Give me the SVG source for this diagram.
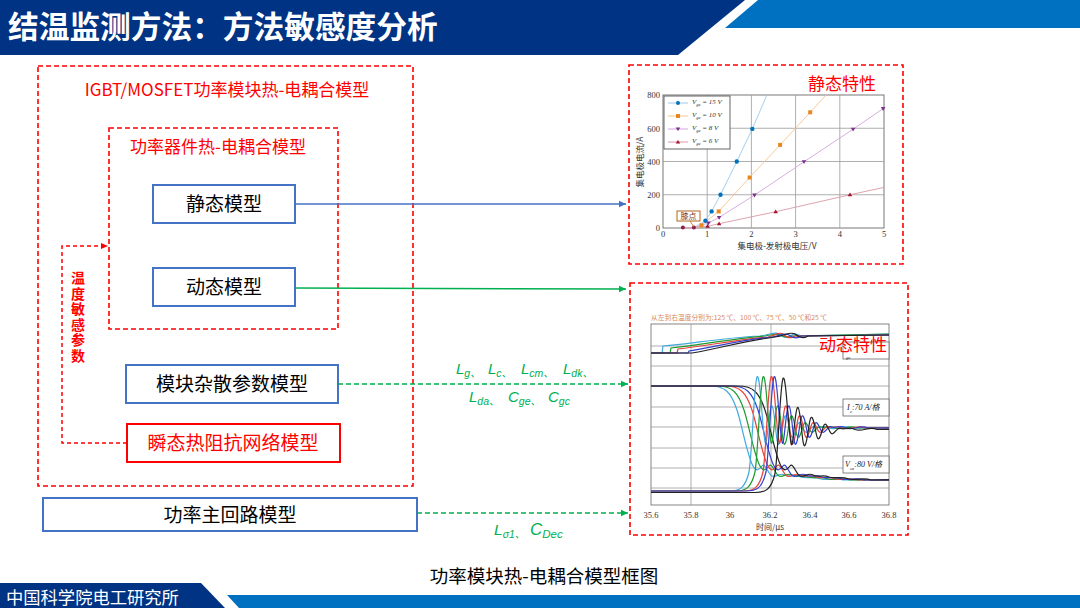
<svg xmlns="http://www.w3.org/2000/svg" xmlns:xlink="http://www.w3.org/1999/xlink" width="1080" height="608" viewBox="0 0 1080 608">
<style>
.cjk{font-family:"Noto Sans CJK SC","Liberation Sans",sans-serif}
.red-dash{fill:none;stroke:#FF0000;stroke-width:1.6;stroke-dasharray:5 3}
.node-blue{fill:#fff;stroke:#4472C4;stroke-width:2}
.node-red{fill:#fff;stroke:#FF0000;stroke-width:2}
.ntext{font-family:"Noto Sans CJK SC","Liberation Sans",sans-serif;font-size:19px;fill:#000;text-anchor:middle}
.rtext{font-family:"Noto Sans CJK SC","Liberation Sans",sans-serif;fill:#FF0000}
.math{font-family:"Liberation Sans","Noto Sans CJK SC",sans-serif;font-style:italic;fill:#00B050;font-size:15px}
.sub{font-size:10.5px}
.tick{font-family:"Liberation Serif",serif;font-size:8.5px;fill:#333}
.grid{stroke:#9a9a9a;stroke-width:0.8;fill:none}
.leg{font-family:"Liberation Serif",serif;font-style:italic;font-size:7px;fill:#333}
.wave{fill:none;stroke-width:1.2}
</style>
<defs>
<marker id="ab" markerWidth="8" markerHeight="8" refX="7" refY="4" orient="auto" markerUnits="userSpaceOnUse"><path d="M0,0.8 L7,4 L0,7.2 z" fill="#4472C4"/></marker>
<marker id="ag" markerWidth="8" markerHeight="8" refX="7" refY="4" orient="auto" markerUnits="userSpaceOnUse"><path d="M0,0.8 L7,4 L0,7.2 z" fill="#00B050"/></marker>
<marker id="ar" markerWidth="8" markerHeight="8" refX="7" refY="4" orient="auto" markerUnits="userSpaceOnUse"><path d="M0,1 L7,4 L0,7 z" fill="#FF0000"/></marker>
<clipPath id="dynclip"><rect x="651" y="324" width="238" height="181"/></clipPath>
<path id="ic" d="M-300,491 L-28,491 C-18,491 -12,489 -8,472 C-5,455 -3,384 0,377 C3,371 5,425 8,442 C10,452 12,404 15,406 C18,408 19,448 22,444 C25,440 26,413 29,416 C32,419 33,440 36,437 C39,434 40,420 43,423 C46,426 47,434 50,432 C53,430 55,425 58,427 C62,429 66,424 72,428 C80,431 86,424 94,428 L300,427"/>
<path id="vce" d="M-300,386 L-35,386 C-20,386 -14,392 -8,410 C-3,425 2,455 8,466 C11,472 14,470 17,466 C20,462 23,474 27,476 C31,478 35,472 40,475 C45,478 50,474 56,477 C62,479 68,476 76,479 C84,481 90,477 98,480 L300,479"/>
</defs>

<rect x="0" y="0" width="1080" height="608" fill="#fff"/>

<g id="header">
<polygon points="0,0 745,0 678,55 0,55" fill="#003383"/>
<polygon points="758,0 1080,0 1080,28 725,28" fill="#0070C0"/>
<text x="8" y="38" class="cjk" font-size="30.7" font-weight="bold" fill="#fff">结温监测方法：方法敏感度分析</text>
</g>

<g id="footer">
<polygon points="0,583 201,583 225,608 0,608" fill="#003383"/>
<polygon points="227,595 1080,595 1080,608 239,608" fill="#0070C0"/>
<text x="6" y="604" class="cjk" font-size="17.3" fill="#fff">中国科学院电工研究所</text>
<text x="544" y="583" class="cjk" font-size="18.5" fill="#000" text-anchor="middle">功率模块热-电耦合模型框图</text>
</g>

<g id="outer-group">
<rect x="38" y="66" width="375" height="420" class="red-dash"/>
<text x="227" y="96" class="rtext" font-size="17" text-anchor="middle">IGBT/MOSFET功率模块热-电耦合模型</text>
</g>
<g id="device-group">
<rect x="109" y="128" width="229" height="201" class="red-dash"/>
<text x="218" y="153" class="rtext" font-size="17" text-anchor="middle">功率器件热-电耦合模型</text>
</g>

<g id="node-static">
<rect x="153" y="185" width="142" height="38" class="node-blue"/>
<text x="224" y="211" class="ntext">静态模型</text>
</g>
<g id="node-dynamic">
<rect x="153" y="268" width="142" height="38" class="node-blue"/>
<text x="224" y="294" class="ntext">动态模型</text>
</g>
<g id="node-stray">
<rect x="126" y="365" width="212" height="38" class="node-blue"/>
<text x="232" y="391" class="ntext">模块杂散参数模型</text>
</g>
<g id="node-thermal">
<rect x="127" y="424" width="213" height="38" class="node-red"/>
<text x="233" y="450" class="ntext" style="fill:#FF0000">瞬态热阻抗网络模型</text>
</g>
<g id="node-main">
<rect x="43" y="498" width="374" height="33" class="node-blue"/>
<text x="230" y="522" class="ntext">功率主回路模型</text>
</g>

<g id="tsep-label">
<text x="78" y="271" class="rtext" font-size="14" font-weight="bold" writing-mode="tb" style="writing-mode:vertical-rl;letter-spacing:1.5px">温度敏感参数</text>
</g>

<g id="connectors">
<path d="M127,443 H62 V246 H108" fill="none" stroke="#FF0000" stroke-width="1.5" stroke-dasharray="4 3" marker-end="url(#ar)"/>
<line x1="295" y1="204" x2="626" y2="204" stroke="#4472C4" stroke-width="1.5" marker-end="url(#ab)"/>
<line x1="295" y1="288" x2="626" y2="289" stroke="#00B050" stroke-width="1.5" marker-end="url(#ag)"/>
<line x1="338" y1="384" x2="628" y2="384" stroke="#00B050" stroke-width="1.6" stroke-dasharray="5 3" marker-end="url(#ag)"/>
<line x1="417" y1="513" x2="628" y2="513" stroke="#00B050" stroke-width="1.6" stroke-dasharray="5 3" marker-end="url(#ag)"/>
</g>

<g id="param-labels">
<text x="456" y="374" class="math">L<tspan class="sub" dy="3">g、</tspan></text>
<text x="488" y="374" class="math">L<tspan class="sub" dy="3">c、</tspan></text>
<text x="521" y="374" class="math">L<tspan class="sub" dy="3">cm、</tspan></text>
<text x="563" y="374" class="math">L<tspan class="sub" dy="3">dk、</tspan></text>
<text x="469" y="402" class="math">L<tspan class="sub" dy="3">da、</tspan></text>
<text x="508" y="402" class="math">C<tspan class="sub" dy="3">ge、</tspan></text>
<text x="548" y="402" class="math">C<tspan class="sub" dy="3">gc</tspan></text>
<text x="494" y="535" class="math" style="font-size:15.5px">L<tspan class="sub" dy="3">σ1、</tspan></text>
<text x="530" y="535" class="math" style="font-size:17px">C<tspan class="sub" dy="3" style="font-size:11.5px">Dec</tspan></text>
</g>

<g id="static-chart">
<rect x="629" y="65" width="274" height="199" class="red-dash"/>
<text x="808" y="90" class="rtext" font-size="17">静态特性</text>
<rect x="663" y="95" width="221" height="133" fill="#fff" stroke="#555" stroke-width="0.8"/>
<path class="grid" d="M707.2,95 V228 M751.4,95 V228 M795.6,95 V228 M839.8,95 V228 M663,194.75 H884 M663,161.5 H884 M663,128.25 H884"/>
<text class="tick" text-anchor="end"><tspan x="660" y="98">800</tspan><tspan x="660" y="131.5">600</tspan><tspan x="660" y="164.7">400</tspan><tspan x="660" y="198">200</tspan><tspan x="660" y="231">0</tspan></text>
<text class="tick" text-anchor="middle"><tspan x="663" y="237">0</tspan><tspan x="707.2" y="237">1</tspan><tspan x="751.4" y="237">2</tspan><tspan x="795.6" y="237">3</tspan><tspan x="839.8" y="237">4</tspan><tspan x="884" y="237">5</tspan></text>
<text x="777" y="249" class="cjk" font-size="8.5" fill="#333" text-anchor="middle">集电极-发射极电压/V</text>
<text transform="translate(643,162) rotate(-90)" class="cjk" font-size="8.5" fill="#333" text-anchor="middle">集电极电流/A</text>
<polyline fill="none" stroke="#9CC8EA" stroke-width="0.9" points="682.9,228 693.9,227.7 705.4,220.7 711.6,211.4 720.5,194.75 736.8,161.5 752.3,128.9 766.9,95"/>
<polyline fill="none" stroke="#F5C58E" stroke-width="0.9" points="682.9,228 693.9,227.7 701.5,225.3 718.7,211.4 749.6,177.5 780.1,144.9 810.2,112.3 826.1,95"/>
<polyline fill="none" stroke="#CFA6DD" stroke-width="0.9" points="682.9,228 693.9,227.7 708.5,223 719.1,217.4 754.5,195.1 804,161.8 853.1,129.2 883.1,108.6"/>
<polyline fill="none" stroke="#D99AA6" stroke-width="0.9" points="682.9,228 693.9,227.7 707.6,226.3 719.1,223.7 775.7,211.7 850,194.75 884,187.4"/>
<g fill="#0072BD"><circle cx="705.4" cy="220.7" r="2.2"/><circle cx="711.6" cy="211.4" r="2.2"/><circle cx="720.5" cy="194.75" r="2.2"/><circle cx="736.8" cy="161.5" r="2.2"/><circle cx="752.3" cy="128.9" r="2.2"/></g>
<g fill="#E8871E"><rect x="699.5" y="223.3" width="4" height="4"/><rect x="716.7" y="209.4" width="4" height="4"/><rect x="747.6" y="175.5" width="4" height="4"/><rect x="778.1" y="142.9" width="4" height="4"/><rect x="808.2" y="110.3" width="4" height="4"/></g>
<g fill="#7E2F8E"><path d="M706.2,221.5 h4.6 l-2.3,3.8z"/><path d="M716.8,215.9 h4.6 l-2.3,3.8z"/><path d="M752.2,193.6 h4.6 l-2.3,3.8z"/><path d="M801.7,160.3 h4.6 l-2.3,3.8z"/><path d="M850.8,127.7 h4.6 l-2.3,3.8z"/><path d="M880.8,107.1 h4.6 l-2.3,3.8z"/></g>
<g fill="#A2142F"><path d="M705.3,227.8 h4.6 l-2.3,-3.8z"/><path d="M716.8,225.2 h4.6 l-2.3,-3.8z"/><path d="M773.4,213.2 h4.6 l-2.3,-3.8z"/><path d="M847.7,196.3 h4.6 l-2.3,-3.8z"/></g>
<g fill="#8E1F4A"><circle cx="682.9" cy="227.6" r="2"/><circle cx="693.9" cy="227.4" r="2"/></g>
<rect x="664" y="96" width="66" height="53" fill="#fff" stroke="#555" stroke-width="0.9"/>
<line x1="668" y1="103" x2="688" y2="103" stroke="#9CC8EA"/><circle cx="678" cy="103" r="2" fill="#0072BD"/>
<line x1="668" y1="116" x2="688" y2="116" stroke="#F5C58E"/><rect x="676" y="114" width="4" height="4" fill="#E8871E"/>
<line x1="668" y1="129" x2="688" y2="129" stroke="#CFA6DD"/><path d="M675.7,127.5 h4.6 l-2.3,3.6z" fill="#7E2F8E"/>
<line x1="668" y1="142" x2="688" y2="142" stroke="#D99AA6"/><path d="M675.7,143.6 h4.6 l-2.3,-3.6z" fill="#A2142F"/>
<text class="leg" x="692" y="104">V<tspan font-size="4.5" dy="2">ge</tspan><tspan dy="-2"> = 15 V</tspan></text>
<text class="leg" x="692" y="117">V<tspan font-size="4.5" dy="2">ge</tspan><tspan dy="-2"> = 10 V</tspan></text>
<text class="leg" x="692" y="130">V<tspan font-size="4.5" dy="2">ge</tspan><tspan dy="-2"> = 8 V</tspan></text>
<text class="leg" x="692" y="143">V<tspan font-size="4.5" dy="2">ge</tspan><tspan dy="-2"> = 6 V</tspan></text>
<line x1="690" y1="221" x2="694" y2="227" stroke="#B5651D" stroke-width="0.8"/>
<rect x="677" y="211" width="23" height="10" fill="#fff" stroke="#B5651D" stroke-width="1"/>
<text x="688.5" y="219.3" class="cjk" font-size="8" fill="#8B3A1A" text-anchor="middle">膝点</text>
</g>

<g id="dynamic-chart">
<rect x="630" y="283" width="278" height="252" class="red-dash"/>
<text x="651" y="320" class="cjk" font-size="6.5" fill="#D9895A" textLength="176" lengthAdjust="spacingAndGlyphs">从左到右温度分别为:125 ℃、100 ℃、75 ℃、50 ℃和25 ℃</text>
<rect x="651" y="324" width="238" height="181" fill="#fff" stroke="#666" stroke-width="0.8"/>
<path class="grid" d="M691,324 V505 M771,324 V505 M651,346 H889 M651,366 H889 M651,386 H889 M651,407 H889 M651,427 H889 M651,448 H889 M651,468 H889 M651,488 H889"/>
<g clip-path="url(#dynclip)">
<path class="wave" stroke="#3FA9DF" d="M651,353 H662 L663,346 C690,344 720,338 760,336 C770,335 775,331 779,334 C783,337 786,339 790,336 C794,333 797,334 801,336 L889,334"/>
<path class="wave" stroke="#1E9B2E" stroke-width="1.5" d="M651,353 H670 L671,348 C700,345 730,339 765,336 C772,335 776,333 780,335 C784,337 787,338 791,336 L889,334"/>
<path class="wave" stroke="#E8413A" d="M651,353 H677 L678,349 C705,346 735,340 768,337 C775,336 779,331 783,334 C787,338 791,339 795,336 L889,335"/>
<path class="wave" stroke="#3040D0" d="M651,353 H688 L689,351 C715,347 740,340 772,337 C780,336 785,332 789,335 C793,338 797,339 801,336 L889,335"/>
<path class="wave" stroke="#222" d="M651,353 H692 C720,348 745,341 775,337 C785,336 790,331 795,334 C800,338 804,339 808,336 L889,335"/>
<use xlink:href="#vce" class="wave" stroke="#3FA9DF" transform="translate(745,0)"/>
<use xlink:href="#vce" class="wave" stroke="#1E9B2E" stroke-width="1.8" transform="translate(752,0)"/>
<use xlink:href="#vce" class="wave" stroke="#E8413A" transform="translate(760,0)"/>
<use xlink:href="#vce" class="wave" stroke="#3040D0" transform="translate(766,0)"/>
<use xlink:href="#vce" class="wave" stroke="#222" transform="translate(773,0)"/>
<use xlink:href="#ic" class="wave" stroke="#3FA9DF" transform="translate(757,0)"/>
<use xlink:href="#ic" class="wave" stroke="#1E9B2E" stroke-width="1.8" transform="translate(763,0)"/>
<use xlink:href="#ic" class="wave" stroke="#E8413A" transform="translate(771,0)"/>
<use xlink:href="#ic" class="wave" stroke="#3040D0" transform="translate(774,0)"/>
<use xlink:href="#ic" class="wave" stroke="#222" transform="translate(783,1.5)"/>
</g>
<rect x="843" y="342" width="46" height="17" fill="#fff" stroke="#666" stroke-width="0.8"/>
<text x="846" y="358.5" font-family="Liberation Serif,serif" font-style="italic" font-size="4.5" fill="#333">ge</text>
<rect x="843" y="399" width="46" height="17" fill="#fff" stroke="#666" stroke-width="0.8"/>
<text x="847" y="410" font-family="Liberation Serif,'Noto Sans CJK SC',serif" font-style="italic" font-size="8" fill="#222">I<tspan font-size="5" dy="3">c</tspan><tspan dy="-3">:70 A/格</tspan></text>
<rect x="843" y="456" width="46" height="17" fill="#fff" stroke="#666" stroke-width="0.8"/>
<text x="845" y="467" font-family="Liberation Serif,'Noto Sans CJK SC',serif" font-style="italic" font-size="8" fill="#222">V<tspan font-size="5" dy="3">ce</tspan><tspan dy="-3">:80 V/格</tspan></text>
<text x="819" y="351" class="rtext" font-size="17">动态特性</text>
<text class="tick" text-anchor="middle" font-size="9"><tspan x="651" y="518">35.6</tspan><tspan x="691" y="518">35.8</tspan><tspan x="730" y="518">36</tspan><tspan x="770" y="518">36.2</tspan><tspan x="810" y="518">36.4</tspan><tspan x="849" y="518">36.6</tspan><tspan x="889" y="518">36.8</tspan></text>
<text x="770" y="530" class="cjk" font-size="8" fill="#333" text-anchor="middle">时间/µs</text>
</g>
</svg>
